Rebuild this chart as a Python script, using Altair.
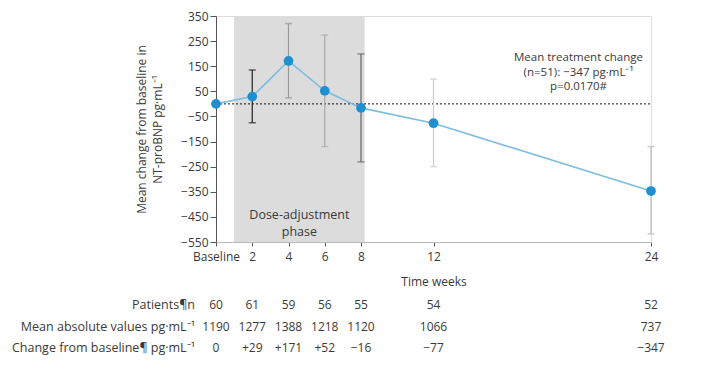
import altair as alt
import pandas as pd

# ---- data ----
weeks = [0, 2, 4, 6, 8, 12, 24]
mean_change = [0, 29, 171, 52, -16, -77, -347]

err_weeks = [2, 4, 6, 8, 12, 24]
err_low = [-75, 24, -170, -231, -250, -518]
err_high = [135, 320, 274, 199, 99, -170]

patients = [60, 61, 59, 56, 55, 54, 52]
mean_abs = [1190, 1277, 1388, 1218, 1120, 1066, 737]
change_labels = ["0", "+29", "+171", "+52", "\u221216", "\u221277", "\u2212347"]

row_labels = ["Patients\u00b6n", "Mean absolute values pg\u00b7mL\u207b\u00b9",
              "Change from baseline\u00b6 pg\u00b7mL\u207b\u00b9"]

phase_start, phase_end = 1, 8.2
phase_text = ["Dose-adjustment", "phase"]
phase_text_x = 4.6
phase_text_y = [-443, -510]

ann_text = ["Mean treatment change", "(n=51): \u2212347 pg\u00b7mL\u207b\u00b9", "p=0.0170#"]
ann_x = 20
ann_y = [184, 125, 66]

y_ticks = [350, 250, 150, 50, -50, -150, -250, -350, -450, -550]

FONT = "Open Sans"
TXT = "#3a3a3a"

df = pd.DataFrame({"week": weeks, "change": mean_change, "patients": patients,
                   "absval": mean_abs, "chg": change_labels})
err = pd.DataFrame({"week": err_weeks, "lo": err_low, "hi": err_high})
phase_df = pd.DataFrame({"x1": [phase_start], "x2": [phase_end], "y1": [350], "y2": [-550]})
phase_lbl = pd.DataFrame({"x": [phase_text_x] * 2, "y": phase_text_y, "t": phase_text})
ann_df = pd.DataFrame({"x": [ann_x] * 3, "y": ann_y, "t": ann_text})
zero_df = pd.DataFrame({"x1": [0], "x2": [24], "y": [0]})

xscale = alt.Scale(domain=[0, 24], nice=False, zero=False)
yscale = alt.Scale(domain=[-550, 350], nice=False, zero=False)

xaxis = alt.Axis(values=weeks, tickCount=30, labelExpr="datum.value == 0 ? 'Baseline' : datum.label",
                 title="Time weeks", grid=False, domainColor="#bbbbbb", tickColor="#555555",
                 tickSize=4, labelColor=TXT, titleColor=TXT, labelFont=FONT, titleFont=FONT,
                 labelFontSize=12, titleFontSize=12, titleFontWeight="normal",
                 labelPadding=5, titlePadding=14, labelFlush=False, labelOverlap=False)
yaxis = alt.Axis(values=y_ticks, tickCount=30,
                 title=["Mean change from baseline in", "NT-proBNP pg\u00b7mL\u207b\u00b9"],
                 grid=False, domainColor="#555555", tickColor="#555555", tickSize=6,
                 labelColor=TXT, titleColor=TXT, labelFont=FONT, titleFont=FONT,
                 labelFontSize=12, titleFontSize=12, titleFontWeight="normal", titleLineHeight=16,
                 labelPadding=2, titlePadding=16, labelFlush=False, labelOverlap=False,
                 labelExpr="replace(datum.label, '-', '\u2212')")

base = alt.Chart(df)

rect = alt.Chart(phase_df).mark_rect(color="#dcdcdc").encode(
    x=alt.X("x1:Q", scale=xscale, axis=xaxis), x2="x2:Q",
    y=alt.Y("y1:Q", scale=yscale, axis=yaxis), y2="y2:Q")

zero = alt.Chart(zero_df).mark_rule(color="#111111", strokeDash=[2, 2], strokeWidth=1).encode(
    x="x1:Q", x2="x2:Q", y="y:Q")

ecolor = alt.Color("week:O", scale=alt.Scale(domain=err_weeks,
                   range=["#222222", "#999999", "#aaaaaa", "#666666", "#cccccc", "#bbbbbb"]), legend=None)
bars = alt.Chart(err).mark_rule(strokeWidth=1.2).encode(x="week:Q", y="lo:Q", y2="hi:Q", color=ecolor)
cap_lo = alt.Chart(err).mark_tick(orient="horizontal", size=7, thickness=1.5).encode(
    x="week:Q", y="lo:Q", color=ecolor)
cap_hi = alt.Chart(err).mark_tick(orient="horizontal", size=7, thickness=1.5).encode(
    x="week:Q", y="hi:Q", color=ecolor)

line = base.mark_line(color="#7fbde0", strokeWidth=1.6).encode(x="week:Q", y="change:Q")
pts = base.mark_point(filled=True, color="#1f8fcf", size=95, opacity=1).encode(x="week:Q", y="change:Q")

phase_txt = alt.Chart(phase_lbl).mark_text(font=FONT, fontSize=12.5, color=TXT).encode(
    x="x:Q", y="y:Q", text="t:N")
ann = alt.Chart(ann_df).mark_text(font=FONT, fontSize=11.5, color=TXT).encode(
    x="x:Q", y="y:Q", text="t:N")

row_y = [289, 311, 332]
tab1 = base.mark_text(font=FONT, fontSize=12, color=TXT).encode(x="week:Q", y=alt.value(row_y[0]), text="patients:N")
tab2 = base.mark_text(font=FONT, fontSize=12, color=TXT).encode(x="week:Q", y=alt.value(row_y[1]), text="absval:N")
tab3 = base.mark_text(font=FONT, fontSize=12, color=TXT).encode(x="week:Q", y=alt.value(row_y[2]), text="chg:N")

one = alt.Data(values=[{}])
lbls = [alt.Chart(one).mark_text(font=FONT, fontSize=12.5, color=TXT, align="right", text=row_labels[i]).encode(
    x=alt.value(-21), y=alt.value(row_y[i])) for i in range(3)]

chart = alt.layer(rect, zero, bars, cap_lo, cap_hi, line, pts, phase_txt, ann, tab1, tab2, tab3, *lbls).properties(
    width=435, height=226,
    autosize=alt.AutoSizeParams(type="none"),
    padding={"left": 208, "top": 8, "right": 60, "bottom": 120},
).configure_view(stroke=None).configure(background="white")

chart.save("out.html", embed_options={"renderer": "svg", "actions": False})
